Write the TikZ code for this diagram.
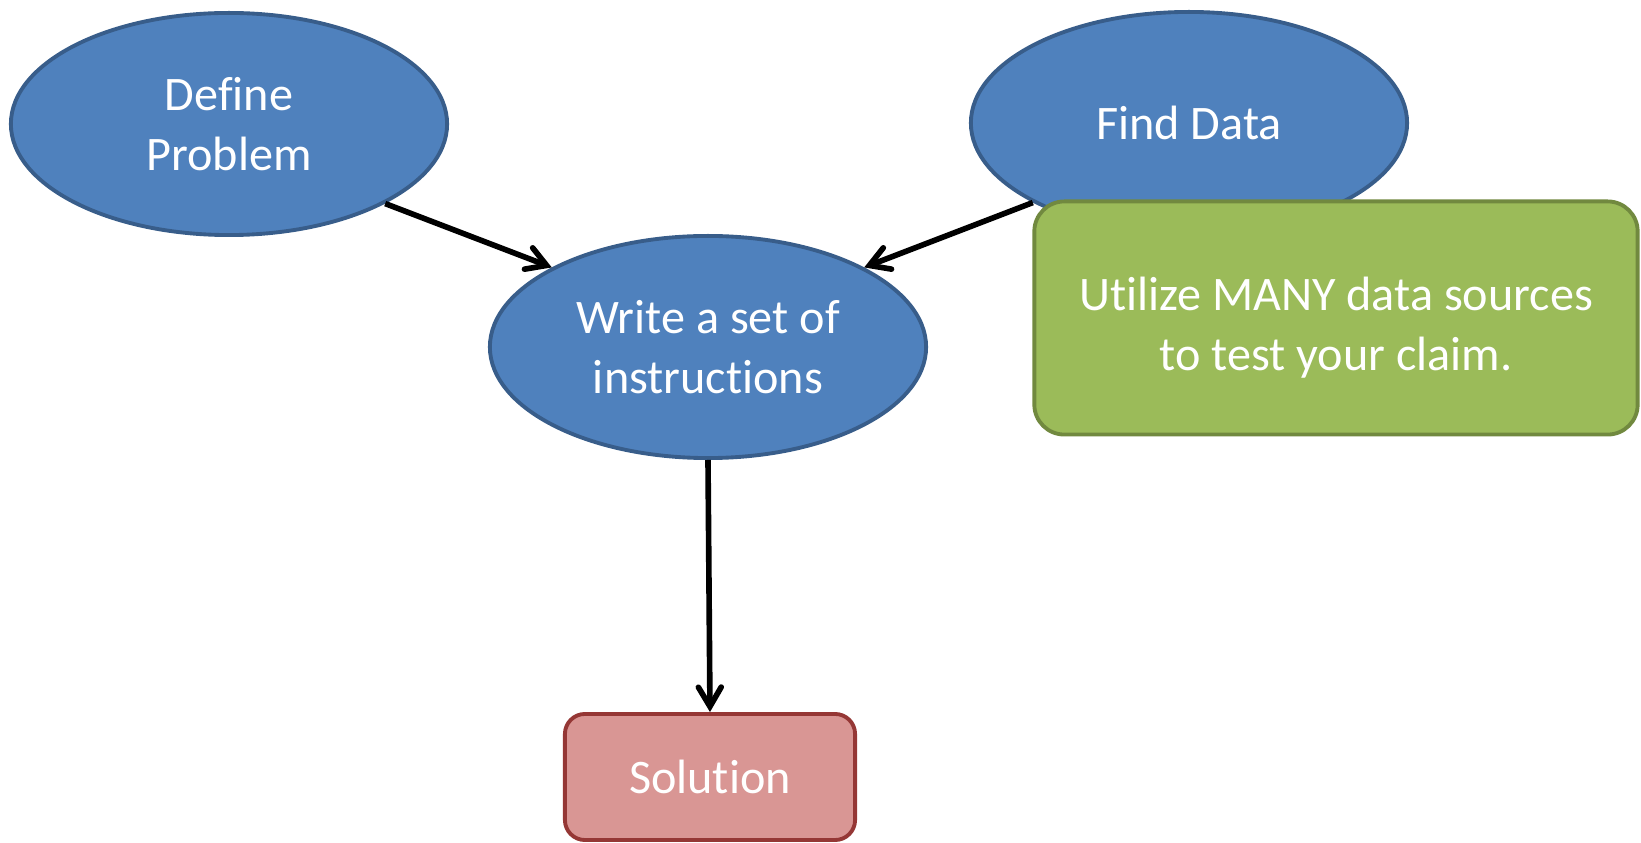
\documentclass[tikz,border=0pt]{standalone}
\usepackage{fontspec}
\setmainfont{Carlito}[Ligatures=NoCommon]
\usetikzlibrary{shapes.geometric,arrows.meta}

\definecolor{stagefill}{HTML}{4F81BD}
\definecolor{stageline}{HTML}{385D8A}
\definecolor{notefill}{HTML}{9BBB59}
\definecolor{noteline}{HTML}{71893F}
\definecolor{resultfill}{HTML}{D99694}
\definecolor{resultline}{HTML}{953735}

\tikzset{
  stage/.style={ellipse, draw=stageline, fill=stagefill, line width=1.1pt,
    minimum width=4.36cm, minimum height=2.22cm, inner sep=0pt,
    text=white, align=center, font=\fontsize{13.7}{17}\selectfont},
  note/.style={rectangle, rounded corners=0.3cm, draw=noteline, fill=notefill,
    line width=1.1pt, minimum width=6.03cm, minimum height=2.33cm,
    text height=32pt, text=white, align=center, font=\fontsize{13.7}{17}\selectfont},
  result/.style={rectangle, rounded corners=0.2cm, draw=resultline, fill=resultfill,
    line width=1.1pt, minimum width=2.9cm, minimum height=1.26cm,
    text=white, font=\fontsize{13.7}{17}\selectfont},
  flow/.style={line width=1.6pt, -{Straight Barb[length=5.5pt,width=6.5pt,line cap=round]}}
}

\begin{document}
\begin{tikzpicture}[x=0.01cm, y=-0.01cm]
  \useasboundingbox (0,0) rectangle (1641,843);

  % Stages
  \node[stage] (define) at (229,124) {Define\\Problem};
  \node[stage] (find) at (1189,123) {Find Data};
  \node[stage] (write) at (708,347) {Write a set of\\instructions};

  % Solution
  \node[result] (solution) at (710,777) {Solution};

  % Arrows
  \draw[flow] (define.-27) -- (write.153);
  \draw[flow] (find.207) -- (write.27);
  \draw[flow] (write.south) -- (solution.north);

  % Note on top
  \node[note] (hint) at (1336,318) {Utilize MANY data sources\\to test your claim.};
\end{tikzpicture}
\end{document}
